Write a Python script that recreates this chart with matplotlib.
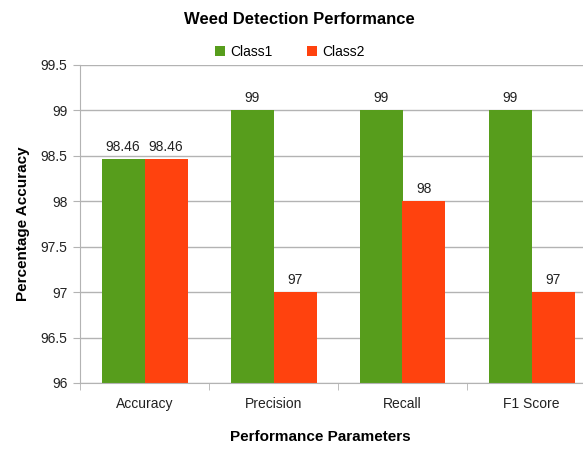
import matplotlib
matplotlib.use("Agg")
import matplotlib.pyplot as plt
import numpy as np
from matplotlib import font_manager

categories = ["Accuracy", "Precision", "Recall", "F1 Score"]
class1 = [98.46, 99, 99, 99]
class2 = [98.46, 97, 98, 97]
labels1 = ["98.46", "99", "99", "99"]
labels2 = ["98.46", "97", "98", "97"]
yticks = [96, 96.5, 97, 97.5, 98, 98.5, 99, 99.5]

names = {f.name for f in font_manager.fontManager.ttflist}
fam = "Liberation Sans Narrow" if "Liberation Sans Narrow" in names else "Liberation Sans"
plt.rcParams["font.family"] = [fam, "DejaVu Sans"]

green = "#579D1C"
red = "#FF420E"

fig = plt.figure(figsize=(5.83, 4.49), dpi=100)
ax = fig.add_axes([80 / 583, 1 - 383 / 449, 516 / 583, 318 / 449])

x = np.arange(len(categories))
w = 1 / 3
b1 = ax.bar(x - w / 2, np.array(class1) - 96, w, bottom=96, color=green, label="Class1")
b2 = ax.bar(x + w / 2, np.array(class2) - 96, w, bottom=96, color=red, label="Class2")

for xi, v, t in zip(x - w / 2, class1, labels1):
    ax.annotate(t, (xi, v), xytext=(0, 4), textcoords="offset points",
                ha="center", va="bottom", fontsize=10, color="#222222")
for xi, v, t in zip(x + w / 2, class2, labels2):
    ax.annotate(t, (xi, v), xytext=(0, 4), textcoords="offset points",
                ha="center", va="bottom", fontsize=10, color="#222222")

ax.set_xlim(-0.5, len(categories) - 0.5)
ax.set_ylim(96, 99.5)
ax.set_yticks(yticks)
ax.set_yticklabels([f"{t:g}" for t in yticks], fontsize=10, color="#222222")
ax.set_xticks(x)
ax.set_xticklabels(categories, fontsize=10, color="#222222")
ax.tick_params(axis="x", length=0, pad=10)
ax.set_xticks(np.arange(len(categories) + 1) - 0.5, minor=True)
ax.tick_params(axis="x", which="minor", length=5, color="#b3b3b3")
ax.tick_params(axis="y", length=5, color="#b3b3b3", pad=4)

ax.grid(axis="y", color="#b3b3b3", linewidth=1)
ax.set_axisbelow(True)
for s in ["top", "right"]:
    ax.spines[s].set_visible(False)
ax.spines["left"].set_color("#b3b3b3")
ax.spines["bottom"].set_color("#b3b3b3")

ax.set_ylabel("Percentage Accuracy", fontsize=11, fontweight="bold", labelpad=8)
fig.text(320 / 583, 1 - 437 / 449, "Performance Parameters", ha="center", va="center",
         fontsize=11, fontweight="bold")
fig.text(299 / 583, 1 - 19 / 449, "Weed Detection Performance", ha="center", va="center",
         fontsize=12, fontweight="bold")
fig.legend(handles=[b1, b2], loc="center", bbox_to_anchor=(290 / 583, 1 - 52 / 449),
           ncol=2, frameon=False, fontsize=10, handlelength=0.7, handleheight=0.7,
           columnspacing=2.5, handletextpad=0.4)

fig.savefig("out.png", dpi=100)
